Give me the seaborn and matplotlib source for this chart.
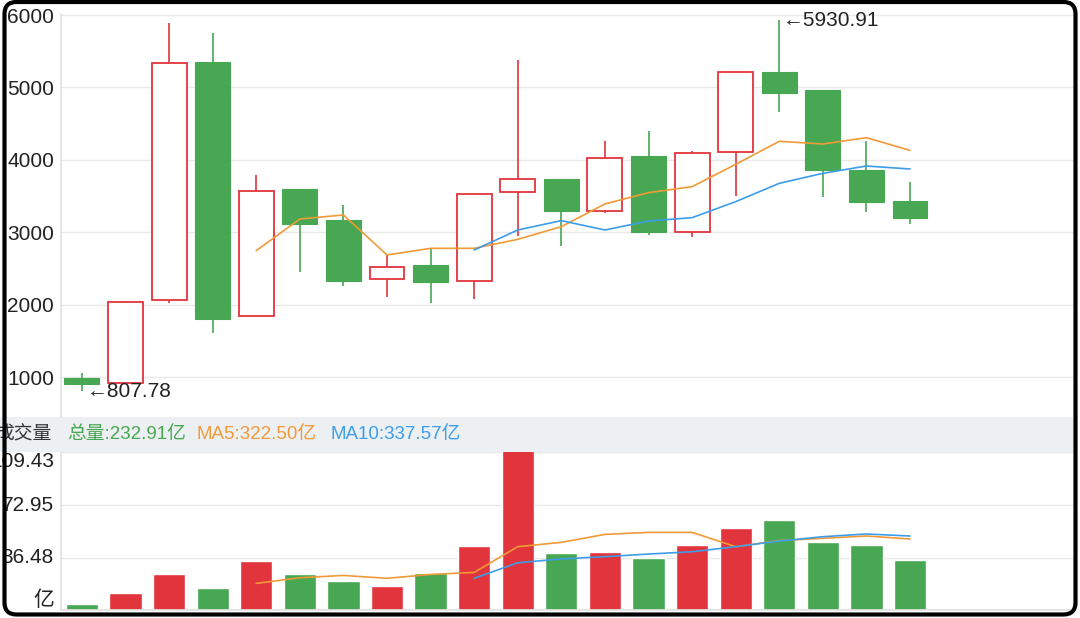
import numpy as np
import pandas as pd
import matplotlib
matplotlib.use("Agg")
import matplotlib.pyplot as plt
import seaborn as sns
from matplotlib.patches import Rectangle, FancyBboxPatch
from matplotlib.transforms import IdentityTransform, blended_transform_factory

# === Data ===
days = list(range(20))
opens = [995, 926, 2067, 5356, 1846, 3594, 3171, 2357, 2550, 2329,
         3562, 3732, 3300, 4054, 3010, 4114, 5209, 4965, 3861, 3433]
closes = [910, 2044, 5342, 1800, 3576, 3116, 2329, 2527, 2320, 3530,
          3732, 3295, 4031, 3001, 4091, 5209, 4928, 3861, 3424, 3192]
highs = [1055, 2050, 5885, 5747, 3792, 3594, 3378, 2688, 2780, 3530,
         5379, 3732, 4261, 4399, 4123, 5209, 5930.91, 4965, 4261, 3691]
lows = [807.78, 926, 2030, 1607, 1846, 2458, 2265, 2113, 2021, 2081,
        2955, 2817, 3263, 2964, 2941, 3502, 4666, 3493, 3286, 3111]

ma5_days = list(range(4, 20))
ma5 = [2748, 3185, 3240, 2688, 2780, 2780, 2904, 3079, 3392, 3548,
       3631, 3939, 4257, 4220, 4307, 4132]
ma10_days = list(range(9, 20))
ma10 = [2757, 3033, 3162, 3033, 3157, 3203, 3424, 3677, 3815, 3916, 3875]

volume = [4.2, 12.0, 24.9, 15.7, 34.2, 24.9, 20.1, 17.1, 26.1, 44.6,
          113.0, 39.7, 40.2, 36.0, 45.0, 56.8, 62.3, 47.1, 45.3, 35.1]
vol_ma5 = [18.7, 22.6, 24.2, 22.2, 24.9, 26.3, 44.1, 47.1, 52.6, 54.0,
           54.0, 44.1, 48.3, 49.9, 51.5, 49.4]
vol_ma10 = [22.2, 33.0, 35.6, 37.2, 39.0, 40.6, 44.1, 48.0, 51.0, 52.9, 51.5]

price_ticks = [1000, 2000, 3000, 4000, 5000, 6000]
vol_ticks = [0, 36.48, 72.95, 109.43]
vol_tick_labels = ["亿", "36.48", "72.95", "109.43"]

legend_items = [("总量:232.91亿", 67), ("MA5:322.50亿", 197), ("MA10:337.57亿", 330)]

# === Style ===
RED = "#E2343C"
GREEN = "#48A752"
ORANGE = "#F19A38"
BLUE = "#3C9DEA"
GRID = "#E9E9E9"
TEXT = "#222222"

sns.set_theme(style="white")
plt.rcParams["font.family"] = ["Liberation Sans", "DejaVu Sans", "Noto Sans CJK SC"]

W, H = 1080, 618
fig = plt.figure(figsize=(W / 100, H / 100), dpi=100)
fig.patch.set_facecolor("white")

XMIN, XMAX = -0.48, 22.74
ax = fig.add_axes([61 / W, (H - 417) / H, 1012 / W, 403 / H])
axv = fig.add_axes([61 / W, (H - 610.4) / H, 1012 / W, 158.1 / H])

df = pd.DataFrame({"day": days, "open": opens, "close": closes, "high": highs, "low": lows, "vol": volume})
df["dir"] = np.where(df["close"] >= df["open"], "up", "down")

# === Candles ===
wick_colors = [RED if d == "up" else GREEN for d in df["dir"]]
ax.vlines(df["day"], df["low"], df["high"], colors=wick_colors, linewidth=1.2, zorder=2)
for _, r in df.iterrows():
    lo, hi = min(r["open"], r["close"]), max(r["open"], r["close"])
    if r["dir"] == "up":
        ax.bar(r["day"], hi - lo, bottom=lo, width=0.8, facecolor="white",
               edgecolor=RED, linewidth=1.3, zorder=3)
    else:
        ax.bar(r["day"], hi - lo, bottom=lo, width=0.8, facecolor=GREEN,
               edgecolor=GREEN, linewidth=0.8, zorder=3)

sns.lineplot(x=ma5_days, y=ma5, ax=ax, color=ORANGE, linewidth=1.2, zorder=4)
sns.lineplot(x=ma10_days, y=ma10, ax=ax, color=BLUE, linewidth=1.2, zorder=4)

ax.annotate("←807.78", xy=(0, 807.78), xytext=(5, 0), textcoords="offset pixels",
            ha="left", va="center", fontsize=15, color=TEXT, zorder=5)
ax.annotate("←5930.91", xy=(16, 5930.91), xytext=(4, 0), textcoords="offset pixels",
            ha="left", va="center", fontsize=15, color=TEXT, zorder=5)

ax.set_xlim(XMIN, XMAX)
ax.set_ylim(452, 6014)
ax.set_yticks(price_ticks)
ax.set_yticklabels([str(t) for t in price_ticks])
ax.set_xticks([])
ax.tick_params(axis="y", length=0, pad=5, labelsize=15, labelcolor=TEXT)
ax.grid(axis="y", color=GRID, linewidth=1)
ax.set_axisbelow(True)
for s in ["top", "right", "bottom"]:
    ax.spines[s].set_visible(False)
ax.spines["left"].set_color("#E2E2E2")
ax.set_xlabel("")
ax.set_ylabel("")

# === Volume ===
sns.barplot(data=df, x="day", y="vol", hue="dir", palette={"up": RED, "down": GREEN},
            native_scale=True, width=0.74, dodge=False, errorbar=None, legend=False,
            saturation=1, ax=axv, zorder=2)
sns.lineplot(x=ma5_days, y=vol_ma5, ax=axv, color=ORANGE, linewidth=1.2, zorder=4)
sns.lineplot(x=ma10_days, y=vol_ma10, ax=axv, color=BLUE, linewidth=1.2, zorder=4)

axv.set_xlim(XMIN, XMAX)
axv.set_ylim(0, 109.43)
axv.set_yticks(vol_ticks)
axv.set_yticklabels([])
axv.set_xticks([])
axv.tick_params(length=0)
axv.grid(axis="y", color=GRID, linewidth=1)
axv.set_axisbelow(True)
for s in ["top", "right"]:
    axv.spines[s].set_visible(False)
axv.spines["left"].set_color("#E2E2E2")
axv.spines["bottom"].set_color("#E2E2E2")
axv.set_xlabel("")
axv.set_ylabel("")

lab_tr = blended_transform_factory(axv.transAxes, axv.transData)
for v, lab in zip(vol_ticks, vol_tick_labels):
    va = "bottom" if v == 0 else ("top" if v == vol_ticks[-1] else "center")
    axv.text(-0.007, v, lab, transform=lab_tr, ha="right", va=va,
             fontsize=15, color=TEXT)

# === Legend band between panes ===
band_bottom = (H - 452.3) / H
band_h = 35.3 / H
fig.patches.append(Rectangle((0, band_bottom), 1073 / W, band_h, transform=fig.transFigure,
                             facecolor="#EDF0F2", edgecolor="none", zorder=0))
band_mid = band_bottom + band_h / 2
fig.text(52 / W, band_mid, "成交量", ha="right", va="center", fontsize=13.5, color="#333333")
for (txt, x0), col in zip(legend_items, [GREEN, ORANGE, BLUE]):
    fig.text(x0 / W, band_mid, txt, ha="left", va="center", fontsize=13.5, color=col)

# === Outer rounded frame ===
frame = FancyBboxPatch((4.5, 3.5), 1071, 612.5, boxstyle="round,pad=0,rounding_size=12",
                       transform=IdentityTransform(), fill=False,
                       edgecolor="black", linewidth=3.0, zorder=10)
fig.add_artist(frame)

fig.savefig("out.png", dpi=100)
